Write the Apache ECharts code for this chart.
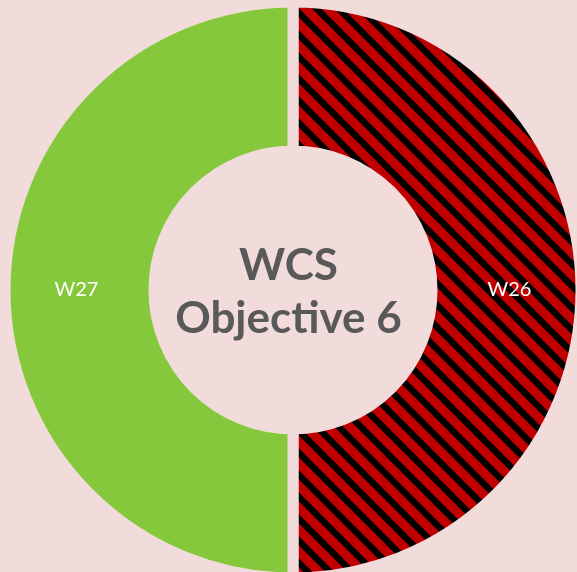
<!DOCTYPE html>
<html>
<head>
<meta charset="utf-8">
<script src="https://cdn.jsdelivr.net/npm/echarts@6/dist/echarts.min.js"></script>
<style>
html,body{margin:0;padding:0;background:#f2dcdb;}
#chart{width:577px;height:572px;}
</style>
</head>
<body>
<div id="chart"></div>
<script>
const categories = ['W26', 'W27'];
const values = [1, 1];
const centerLines = ['WCS', 'Objective 6'];

function stripeTile() {
  const s = 22;
  const c = document.createElement('canvas');
  c.width = s; c.height = s;
  const ctx = c.getContext('2d');
  ctx.fillStyle = '#c00000';
  ctx.fillRect(0, 0, s, s);
  ctx.strokeStyle = '#000000';
  ctx.lineWidth = 6.5;
  ctx.beginPath();
  ctx.moveTo(-s, -s); ctx.lineTo(2 * s, 2 * s);
  ctx.moveTo(-s, 0); ctx.lineTo(s, 2 * s);
  ctx.moveTo(0, -s); ctx.lineTo(2 * s, s);
  ctx.stroke();
  return c;
}

const chart = echarts.init(document.getElementById('chart'), null, {renderer: 'canvas'});
const colors = [{image: stripeTile(), repeat: 'repeat'}, '#86c83c'];

chart.setOption({
  backgroundColor: '#f2dcdb',
  animation: false,
  series: [{
    type: 'pie',
    center: [293, 290],
    radius: [139, 288],
    startAngle: 90,
    clockwise: true,
    label: {
      show: true,
      position: 'inside',
      color: '#ffffff',
      fontSize: 20,
      fontFamily: 'Lato',
      formatter: '{b}'
    },
    labelLine: {show: false},
    emphasis: {disabled: true},
    itemStyle: {borderColor: '#f2dcdb', borderWidth: 11},
    data: categories.map((n, i) => ({name: n, value: values[i], itemStyle: {color: colors[i]}}))
  }],
  graphic: [
    {type: 'text', left: 'center', top: 244, style: {text: centerLines[0], font: 'bold 44px Lato', fill: '#595959', textAlign: 'center'}},
    {type: 'text', left: 'center', top: 297, style: {text: centerLines[1], font: 'bold 44px Lato', fill: '#595959', textAlign: 'center'}}
  ]
});
</script>
</body>
</html>
